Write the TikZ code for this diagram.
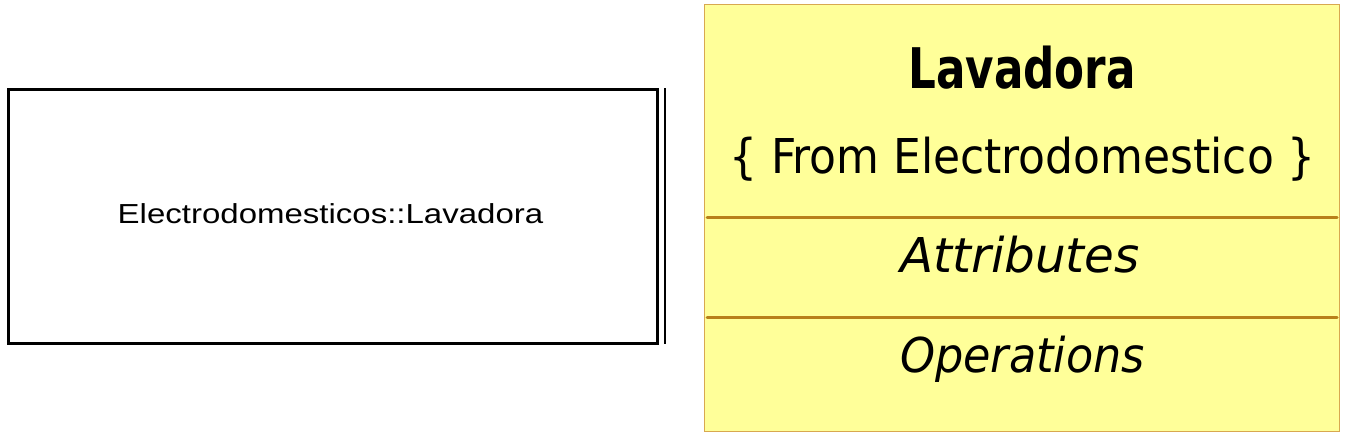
\documentclass[tikz,border=0pt]{standalone}
\usepackage{fontspec}
\setmainfont{Liberation Sans}
\newfontfamily\umlfont{DejaVu Sans Condensed}
\definecolor{umlfill}{HTML}{FFFF99}
\definecolor{umlborder}{HTML}{D8A850}
\definecolor{umlline}{HTML}{B8801A}
\begin{document}
\begin{tikzpicture}[x=1pt,y=-1pt,
  umltext/.style={inner sep=0pt,anchor=base,font=\umlfont}]
\useasboundingbox (0,0) rectangle (1347,437);
% left box
\draw[line width=3pt] (8,89) rectangle (657,343);
\draw[line width=1.5pt] (665,88) -- (665,344);
\node[inner sep=0pt,anchor=base,font=\fontsize{27.5}{32}\selectfont] (lname) at (330.5,223) {\scalebox{1.2}[1]{Electrodomesticos::Lavadora}};
% right box
\draw[umlborder,fill=umlfill,line width=1pt] (704.5,4.5) rectangle (1339.5,431.5);
\coordinate (l1a) at (707,217);
\coordinate (l1b) at (1337,217);
\coordinate (l2a) at (707,317);
\coordinate (l2b) at (1337,317);
\draw[umlline,line width=3pt,line cap=round] (l1a) -- (l1b);
\draw[umlline,line width=3pt,line cap=round] (l2a) -- (l2b);
\node[umltext,font=\umlfont\bfseries\fontsize{56}{60}\selectfont] (title) at (1022,88) {\scalebox{0.866}[1]{Lavadora}};
\node[umltext,font=\umlfont\fontsize{48}{56}\selectfont] (from) at (1022.5,173) {\scalebox{1.018}[1]{\{ From Electrodomestico \}}};
\node[umltext,font=\umlfont\itshape\fontsize{48}{56}\selectfont] (attr) at (1020,272) {\scalebox{1.12}[1]{Attributes}};
\node[umltext,font=\umlfont\itshape\fontsize{48}{56}\selectfont] (oper) at (1022.5,372) {\scalebox{1.03}[1]{Operations}};
\end{tikzpicture}
\end{document}
